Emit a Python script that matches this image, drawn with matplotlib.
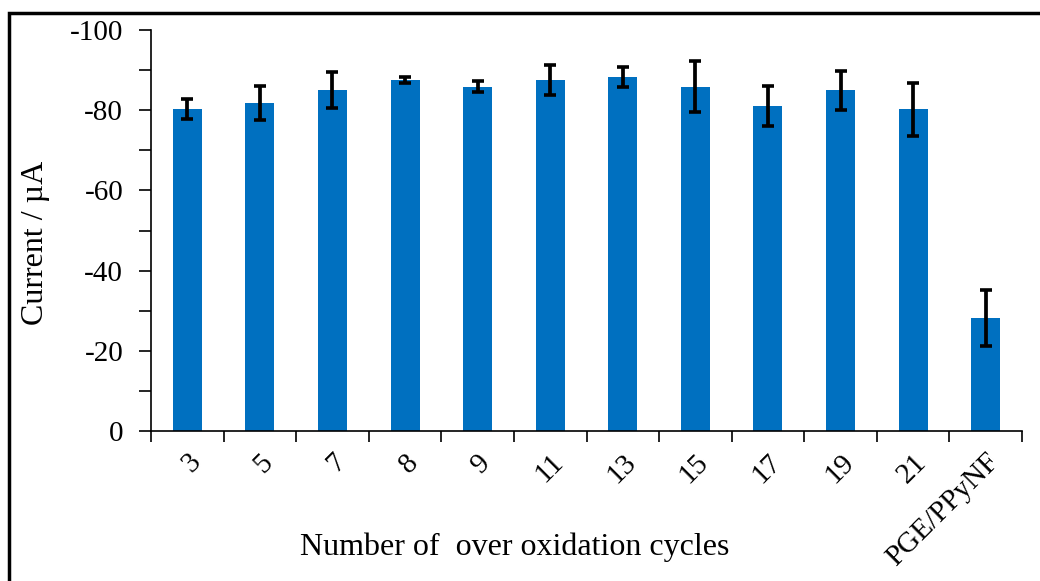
import matplotlib
matplotlib.use("Agg")
import matplotlib.pyplot as plt
import matplotlib.transforms as mtransforms
import numpy as np
from matplotlib.patches import Rectangle

# data
cycles = ["3", "5", "7", "8", "9", "11", "13", "15", "17", "19", "21", "PGE/PPyNF"]
current = [-80.2, -81.8, -85.0, -87.5, -85.9, -87.5, -88.3, -85.9, -81.0, -85.0, -80.2, -28.1]
error = [2.5, 4.3, 4.5, 0.8, 1.4, 3.8, 2.5, 6.4, 5.0, 4.9, 6.7, 7.0]

plt.rcParams['font.family'] = ['Liberation Serif', 'DejaVu Serif']
plt.rcParams['axes.unicode_minus'] = False

fig = plt.figure(figsize=(10.4, 5.81), dpi=100)
ax = fig.add_axes([151 / 1040, 1 - 431 / 581, (1022 - 151) / 1040, (431 - 30) / 581])

x = np.arange(len(cycles))
ax.bar(x, current, width=0.4, color='#0070C0', zorder=2)
ax.errorbar(x, current, yerr=error, fmt='none', ecolor='black',
            elinewidth=2.7, capsize=4.5, capthick=2.6, zorder=3)

ax.set_xlim(-0.5, len(cycles) - 0.5)
ax.set_ylim(0, -100)
ax.set_yticks(np.arange(0, -101, -20))
ax.set_yticks(np.arange(-10, -100, -20), minor=True)
ax.set_yticklabels([str(v) for v in range(0, -101, -20)], fontsize=21)

# category boundaries carry the ticks, labels sit under the bars
ax.set_xticks(np.arange(-0.5, len(cycles), 1.0))
ax.set_xticklabels([])
ax.set_xticks(x, minor=True)
ax.set_xticklabels(cycles, minor=True, rotation=45, ha='right', va='top',
                   rotation_mode='anchor', fontsize=21)
offset = mtransforms.ScaledTranslation(5 / 100, 0, fig.dpi_scale_trans)
for lab in ax.get_xticklabels(minor=True):
    lab.set_transform(lab.get_transform() + offset)

ax.tick_params(axis='x', which='major', direction='out', length=8, width=1.2)
ax.tick_params(axis='x', which='minor', length=0, pad=13)
ax.tick_params(axis='y', which='both', direction='out', length=9, width=1.2, pad=11)

for side in ['top', 'right']:
    ax.spines[side].set_visible(False)
for side in ['left', 'bottom']:
    ax.spines[side].set_linewidth(1.2)

fig.text(515 / 1040, 1 - 547 / 581, 'Number of  over oxidation cycles',
         fontsize=23, ha='center', va='center')
fig.text(36 / 1040, 1 - 243 / 581, 'Current / µA', fontsize=23,
         rotation=90, ha='center', va='center')

# outer frame around the whole picture
fig.patches.append(Rectangle((9 / 1040, -0.1), 1.2, 1.1 - 13 / 581,
                             transform=fig.transFigure, fill=False,
                             edgecolor='black', linewidth=2.5))

fig.savefig('out.png', dpi=100)
